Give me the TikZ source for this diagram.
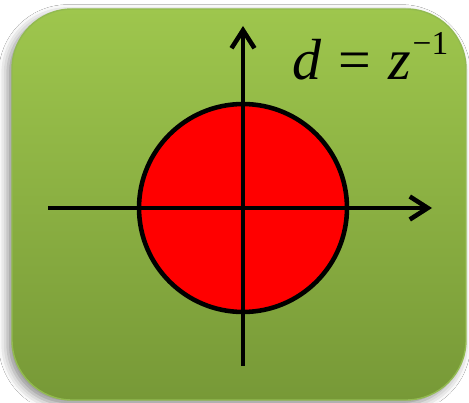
\documentclass[tikz,border=0pt]{standalone}
\usepackage{fontspec}
\setmainfont{Liberation Serif}
\usetikzlibrary{shadows.blur, arrows.meta}
\definecolor{LeafTop}{HTML}{9EC64D}
\definecolor{LeafBottom}{HTML}{779937}
\definecolor{LeafEdge}{HTML}{92BA50}
\definecolor{DiskRed}{HTML}{FF0000}

\begin{document}
\begin{tikzpicture}[x=0.02cm,y=-0.02cm,
  axisline/.style={line width=2.6pt,-{Straight Barb[length=3.6mm,width=4.6mm]}},
  panel/.style={draw=LeafEdge,line width=0.8pt,top color=LeafTop,bottom color=LeafBottom,
    rounded corners=1.2cm,
    blur shadow={shadow xshift=-2.5pt,shadow yshift=-2.5pt,shadow blur radius=5pt,shadow opacity=45}}]
\useasboundingbox[fill=white] (0,0) rectangle (469,402);
% panel
\path[panel] (12,9) rectangle (466,400);
% unit disk
\node (disk) [draw,fill=DiskRed,circle,line width=2.6pt,minimum size=4.16cm,inner sep=0pt] at (243,208) {};
\coordinate (xl) at (48,208);
\coordinate (xr) at (432,208);
\coordinate (yb) at (243,366);
\coordinate (yt) at (243,26);
\draw[axisline] (xl) -- (xr);
\draw[axisline] (yb) -- (yt);
% label
\node (lbl) [anchor=base west,inner sep=0pt] at (292,79) {\fontsize{33}{36}\selectfont
  \textit{d}\hspace{0.3em}=\hspace{0.3em}\textit{z}\hspace{0.02em}\raisebox{0.5cm}{\fontsize{19}{21}\selectfont −1}};
\end{tikzpicture}
\end{document}
